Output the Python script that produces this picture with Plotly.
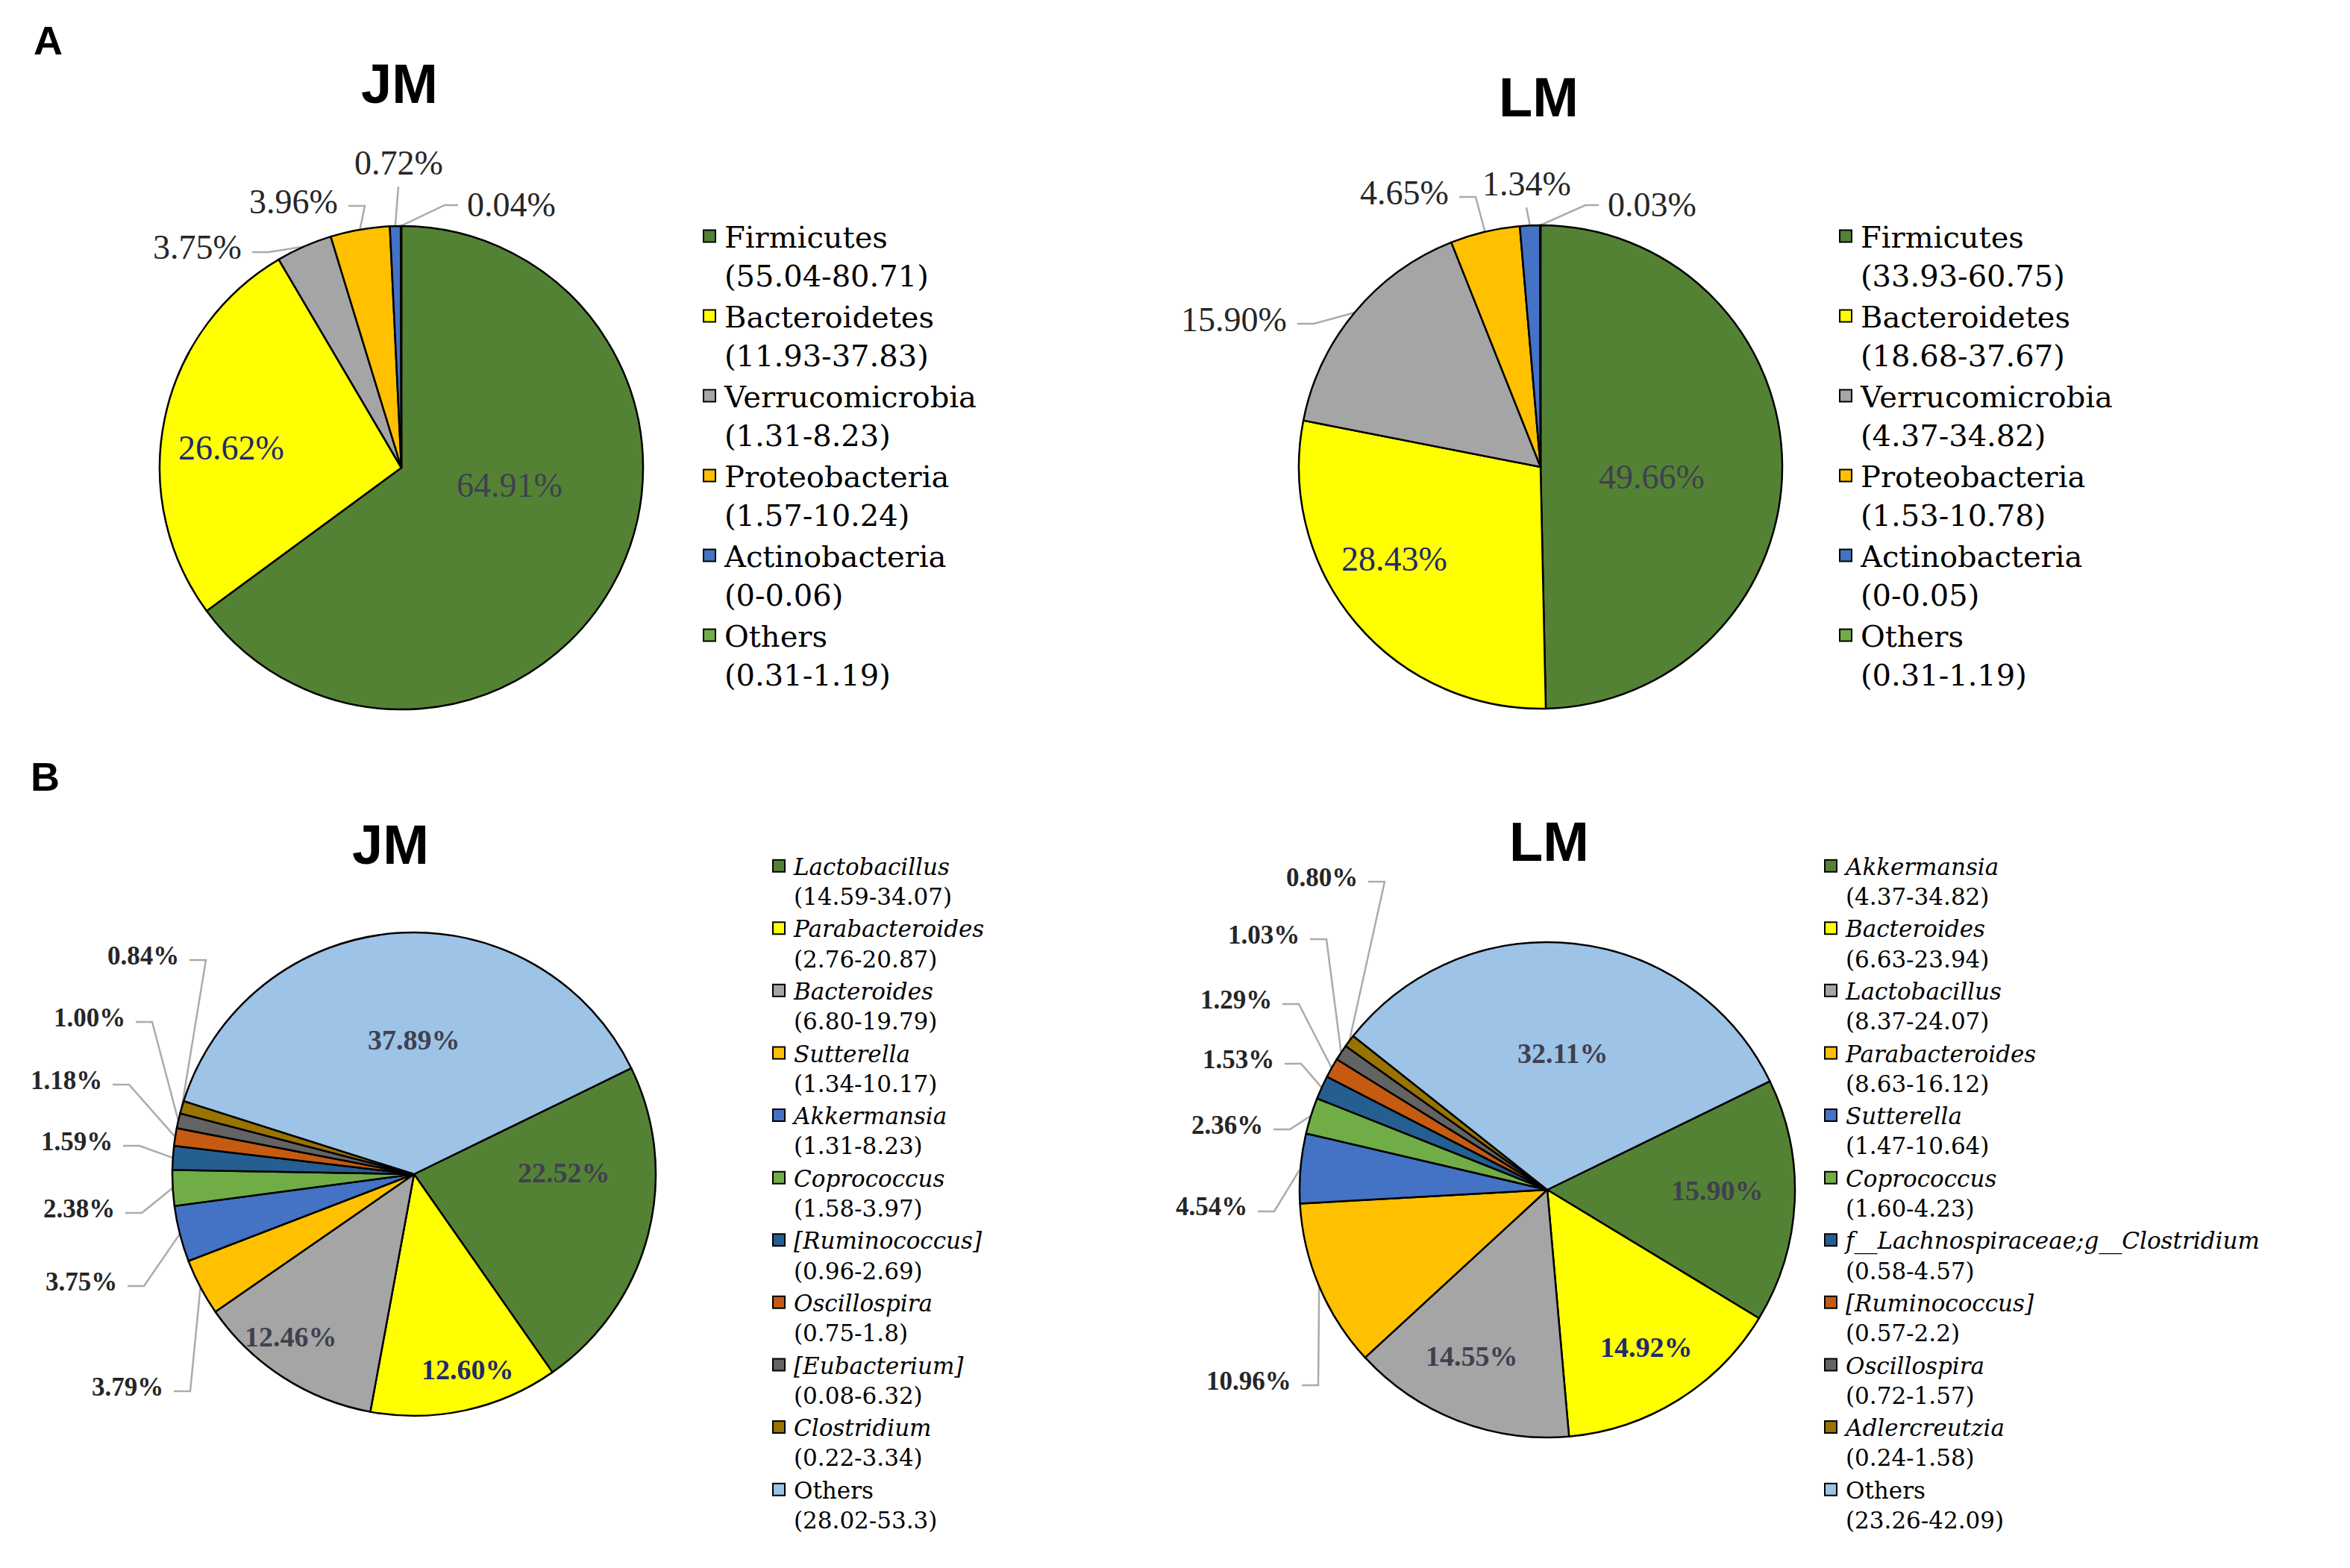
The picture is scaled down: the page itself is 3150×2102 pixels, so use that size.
import math
import plotly.graph_objects as go

W, H = 3150, 2102

# ---- data ----
phylum_names = ["Firmicutes", "Bacteroidetes", "Verrucomicrobia",
                "Proteobacteria", "Actinobacteria", "Others"]
jm_phylum_pct = [64.91, 26.62, 3.75, 3.96, 0.72, 0.04]
jm_phylum_range = ["55.04-80.71", "11.93-37.83", "1.31-8.23",
                   "1.57-10.24", "0-0.06", "0.31-1.19"]
lm_phylum_pct = [49.66, 28.43, 15.90, 4.65, 1.34, 0.03]
lm_phylum_range = ["33.93-60.75", "18.68-37.67", "4.37-34.82",
                   "1.53-10.78", "0-0.05", "0.31-1.19"]

jm_genus_names = ["Lactobacillus", "Parabacteroides", "Bacteroides", "Sutterella",
                  "Akkermansia", "Coprococcus", "[Ruminococcus]", "Oscillospira",
                  "[Eubacterium]", "Clostridium", "Others"]
jm_genus_pct = [22.52, 12.60, 12.46, 3.79, 3.75, 2.38, 1.59, 1.18, 1.00, 0.84, 37.89]
jm_genus_range = ["14.59-34.07", "2.76-20.87", "6.80-19.79", "1.34-10.17",
                  "1.31-8.23", "1.58-3.97", "0.96-2.69", "0.75-1.8",
                  "0.08-6.32", "0.22-3.34", "28.02-53.3"]

lm_genus_names = ["Akkermansia", "Bacteroides", "Lactobacillus", "Parabacteroides",
                  "Sutterella", "Coprococcus", "f__Lachnospiraceae;g__Clostridium",
                  "[Ruminococcus]", "Oscillospira", "Adlercreutzia", "Others"]
lm_genus_pct = [15.90, 14.92, 14.55, 10.96, 4.54, 2.36, 1.53, 1.29, 1.03, 0.80, 32.11]
lm_genus_range = ["4.37-34.82", "6.63-23.94", "8.37-24.07", "8.63-16.12",
                  "1.47-10.64", "1.60-4.23", "0.58-4.57", "0.57-2.2",
                  "0.72-1.57", "0.24-1.58", "23.26-42.09"]

# ---- styles ----
phylum_colors = ["#548235", "#FFFF00", "#A5A5A5", "#FFC000", "#4472C4", "#70AD47"]
genus_colors = ["#548235", "#FFFF00", "#A5A5A5", "#FFC000", "#4472C4", "#70AD47",
                "#255E91", "#C55A11", "#636363", "#997300", "#9DC3E6"]
SERIF = "Liberation Serif"
LEG_SERIF = "DejaVu Serif"      # wider face, closer to the stretched legend text
SANS = "Liberation Sans Narrow, Liberation Sans, Arial, sans-serif"
NAVY = "#1f2a6b"
DARK = "#404050"


def px(x):
    return x / W


def py(y):
    return 1 - y / H


# pie layout (pixels): centre, radius, start angle, legend corner, title spot,
# inside labels as offsets from centre, outside labels as leader-line attach points
pies = [
    dict(name="JM", pct=jm_phylum_pct, names=phylum_names, rng=jm_phylum_range,
         colors=phylum_colors, italic=False, cx=530, cy=619, r=324, rot=0,
         fs=40, ins_fs=46, out_fs=46, bold=False, legend="legend", leg=(963, 276),
         title=(527, 104),
         inside={0: (145, 23), 1: (-228, -27)},
         out=[(318, 324, "r"), (447, 262, "r"), (526, 238, "b"), (616, 267, "l")]),
    dict(name="LM", pct=lm_phylum_pct, names=phylum_names, rng=lm_phylum_range,
         colors=phylum_colors, italic=False, cx=2057, cy=618, r=324, rot=0,
         fs=40, ins_fs=46, out_fs=46, bold=False, legend="legend2", leg=(2486, 276),
         title=(2054, 122),
         inside={0: (149, 13), 1: (-196, 124)},
         out=[(1719, 420, "r"), (1936, 250, "r"), (2038, 266, "b"), (2145, 267, "l")]),
    dict(name="JM", pct=jm_genus_pct, names=jm_genus_names, rng=jm_genus_range,
         colors=genus_colors, italic=True, cx=547, cy=1566, r=324, rot=64,
         fs=31, ins_fs=38, out_fs=35, bold=True, legend="legend3", leg=(1056, 1126),
         title=(515, 1124),
         inside={0: (201, -2), 1: (72, 262), 2: (-165, 218), 10: (0, -180)},
         out=[(213, 1851, "r"), (151, 1710, "r"), (148, 1612, "r"), (145, 1522, "r"),
              (131, 1440, "r"), (162, 1356, "r"), (234, 1273, "r")]),
    dict(name="LM", pct=lm_genus_pct, names=lm_genus_names, rng=lm_genus_range,
         colors=genus_colors, italic=True, cx=2066, cy=1587, r=332, rot=64,
         fs=31, ins_fs=38, out_fs=35, bold=True, legend="legend4", leg=(2466, 1126),
         title=(2068, 1121),
         inside={0: (228, 1), 1: (133, 211), 2: (-101, 223), 10: (20, -183)},
         out=[(1725, 1843, "r"), (1666, 1610, "r"), (1687, 1500, "r"), (1702, 1412, "r"),
              (1699, 1332, "r"), (1736, 1245, "r"), (1814, 1168, "r")]),
]

fig = go.Figure()
annotations = []
shapes = []

for p in pies:
    cx, cy, r = p["cx"], p["cy"], p["r"]
    labels = []
    for n, rg in zip(p["names"], p["rng"]):
        nm = n if (not p["italic"] or n == "Others") else "<i>%s</i>" % n
        labels.append("%s<br>(%s)" % (nm, rg))
    fig.add_trace(go.Pie(
        labels=labels, values=p["pct"], textinfo="none",
        marker=dict(colors=p["colors"], line=dict(color="black", width=2.5)),
        sort=False, direction="clockwise", rotation=p["rot"],
        domain=dict(x=[px(cx - r), px(cx + r)], y=[py(cy + r), py(cy - r)]),
        showlegend=False, hoverinfo="label+percent",
    ))
    # legend keys: square swatches with a black edge, like the original
    for lab, col in zip(labels, p["colors"]):
        fig.add_trace(go.Scatter(
            x=[None], y=[None], mode="markers", name=lab, legend=p["legend"],
            marker=dict(symbol="square", size=16, color=col,
                        line=dict(color="black", width=2)),
        ))

    total = sum(p["pct"])
    cum = 0
    mids = []
    for v in p["pct"]:
        mids.append(p["rot"] + (cum + v / 2) / total * 360)
        cum += v
    weight = "bold" if p["bold"] else "normal"

    # percentages printed on the slices
    for i, (dx, dy) in p["inside"].items():
        col = NAVY if p["colors"][i] == "#FFFF00" else DARK
        annotations.append(dict(x=px(cx + dx), y=py(cy + dy), text="%.2f%%" % p["pct"][i],
                                xref="paper", yref="paper",
                                showarrow=False, xanchor="center", yanchor="middle",
                                font=dict(family=SERIF, size=p["ins_fs"], color=col,
                                          weight=weight)))

    # small slices: label outside with a leader line to the rim
    outside = [i for i in range(len(p["pct"])) if i not in p["inside"]]
    for i, (ax, ay, side) in zip(outside, p["out"]):
        a = math.radians(mids[i])
        rx, ry = cx + r * math.sin(a), cy - r * math.cos(a)
        txt = "%.2f%%" % p["pct"][i]
        if side == "r":
            ann = dict(x=px(ax), y=py(ay), xanchor="right", yanchor="middle")
            pts = [(ax + 12, ay + 6), (ax + 34, ay + 6), (rx, ry)]
        elif side == "l":
            ann = dict(x=px(ax), y=py(ay), xanchor="left", yanchor="middle")
            pts = [(ax - 10, ay), (ax - 28, ay), (rx, ry)]
        else:
            ann = dict(x=px(ax), y=py(ay), xanchor="center", yanchor="bottom")
            pts = [(ax, ay + 4), (rx, ry)]
        ann.update(text=txt, showarrow=False, xref="paper", yref="paper",
                   font=dict(family=SERIF, size=p["out_fs"], color="#262626",
                             weight=weight))
        annotations.append(ann)
        path = "M " + " L ".join("%.5f,%.5f" % (px(x), py(y)) for x, y in pts)
        shapes.append(dict(type="path", path=path, xref="paper", yref="paper",
                           line=dict(color="#ababab", width=2.5), layer="below"))

    # chart title
    tx, ty = p["title"]
    annotations.append(dict(x=px(tx), y=py(ty), text="<b>%s</b>" % p["name"],
                            xref="paper", yref="paper",
                            showarrow=False, xanchor="center", yanchor="middle",
                            font=dict(family=SANS, size=74, color="black")))

# panel letters
for letter, (lx, ly) in [("A", (56, 46)), ("B", (52, 1033))]:
    annotations.append(dict(x=px(lx), y=py(ly), text="<b>%s</b>" % letter,
                            xref="paper", yref="paper",
                            showarrow=False, xanchor="center", yanchor="middle",
                            font=dict(family=SANS, size=54, color="black")))

layout = dict(
    width=W, height=H, paper_bgcolor="white", plot_bgcolor="white",
    margin=dict(l=0, r=0, t=0, b=0),
    xaxis=dict(visible=False), yaxis=dict(visible=False),
    annotations=annotations, shapes=shapes, showlegend=True,
)
for p in pies:
    lx, ly = p["leg"]
    layout[p["legend"]] = dict(
        x=px(lx - 40), y=py(ly), xanchor="left", yanchor="top",
        font=dict(family=LEG_SERIF, size=p["fs"], color="black"),
        valign="top", bgcolor="rgba(0,0,0,0)", tracegroupgap=0,
        itemsizing="trace",
    )
fig.update_layout(**layout)

fig.write_html("out.html")
